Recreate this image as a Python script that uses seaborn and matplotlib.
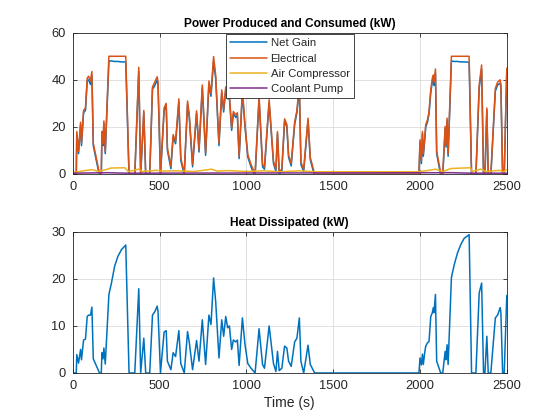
import numpy as np
import pandas as pd
import matplotlib
matplotlib.use("Agg")
import matplotlib.pyplot as plt
import seaborn as sns

# time axis (s), shared by the power and heat traces
time_s = [0, 20, 23, 33, 45, 50, 62, 73, 83, 91,
          102, 110, 118, 154, 164, 168, 174, 179, 187, 208,
          222, 241, 260, 280, 305, 324, 357, 380, 391, 409,
          420, 443, 459, 472, 486, 491, 505, 526, 538, 545,
          565, 578, 592, 611, 622, 642, 661, 671, 690, 713,
          727, 746, 765, 784, 796, 811, 823, 842, 858, 869,
          881, 892, 902, 915, 925, 939, 948, 958, 977, 992,
          1008, 1027, 1050, 1073, 1093, 1104, 1131, 1156, 1170, 1179,
          1189, 1204, 1220, 1233, 1243, 1258, 1278, 1291, 1305, 1314,
          1330, 1355, 1368, 1393, 1994, 2000, 2008, 2014, 2019, 2027,
          2033, 2043, 2052, 2062, 2071, 2077, 2081, 2089, 2096, 2119,
          2131, 2145, 2150, 2156, 2162, 2181, 2197, 2216, 2235, 2254,
          2283, 2297, 2322, 2341, 2355, 2366, 2374, 2385, 2393, 2408,
          2434, 2447, 2462, 2466, 2476, 2485, 2500]

electrical = [0, 0, 18, 9.6, 22, 13, 27, 28, 40.7, 41.5,
              39.5, 43.5, 13, 0, 0, 18, 13, 22.5, 9.6, 50,
              50, 50, 50, 50, 50, 0, 0, 45.3, 0, 27,
              0, 0, 37, 39, 41.3, 39, 0, 28, 30, 11,
              3.2, 16.7, 13.8, 31.9, 6.8, 0.4, 31, 25, 4, 26.8,
              10.3, 37.8, 8.9, 39.5, 34.3, 49.9, 42, 13.1, 35.7, 27.3,
              37, 32.9, 33.5, 19.5, 26.5, 25, 26, 7.5, 35.7, 20.9,
              8.2, 3.9, 0, 33, 4, 3, 31.5, 5.4, 2, 18,
              1, 2, 23.4, 21, 8, 4.4, 22, 27, 38, 5,
              2, 23.7, 7, 0, 0, 14.5, 5.4, 18, 8.5, 15.2,
              20.9, 23, 26.5, 35.7, 40.7, 42, 39, 44.6, 9.6, 0.5,
              0, 20.2, 12.4, 23.7, 8.5, 50, 50, 50, 50, 50,
              50, 0, 0, 37.8, 46.3, 0, 0, 28, 0, 0,
              36.4, 39, 40, 37.8, 0, 0, 45]

net_gain = [-1, -1, 17, 8.6, 21, 12, 26, 27, 39.5, 40,
            38, 42, 12, -1, -1, 17, 12, 21.5, 8.6, 48,
            48, 47.8, 47.8, 47.6, 47.6, -1, -1, 43.5, -1, 26,
            -1, -1, 36, 37.5, 40, 37.5, -1, 27, 29, 10,
            2.2, 15.7, 12.8, 30.5, 5.8, -0.6, 29.8, 24, 3, 25.8,
            9.3, 36.5, 7.9, 38, 33, 48, 40.5, 12, 34.5, 26.3,
            35.8, 31.9, 32.3, 18.5, 25.5, 24, 25, 6.5, 34.5, 19.9,
            7.2, 2.9, -1, 31.8, 3, 2, 30.3, 4.4, 1, 17,
            0, 1, 22.4, 20, 7, 3.4, 21, 26, 36.8, 4,
            1, 22.7, 6, -1, -1, 13.5, 4.4, 17, 7.5, 14.2,
            19.9, 22, 25.5, 34.5, 39.3, 40.6, 37.6, 43, 8.6, -0.5,
            -1, 19.2, 11.4, 22.7, 7.5, 48, 47.8, 47.8, 47.6, 47.6,
            47.5, -1, -1, 36.5, 44.5, -1, -1, 27, -1, -1,
            35.2, 37.8, 38.6, 36.5, -1, -1, 43.5]

heat = [0, 0, 3.9, 2.1, 5, 2.8, 7, 7.2, 12, 12.3,
        12.3, 14, 3, 0, 0, 4.3, 3, 5.3, 1.9, 16.7,
        19, 22.7, 24.8, 26.2, 27.2, 0, 0, 17.9, 0, 7.4,
        0, 0, 12.3, 13, 14.2, 13, 0, 8.7, 9, 2.5,
        0.7, 4.3, 3.5, 9, 2, 0, 8.8, 6.5, 0.7, 6.9,
        2.5, 11.3, 1.8, 12.3, 10.3, 20.2, 15.2, 3.2, 11.3, 7.8,
        12, 9.6, 10, 5, 7, 6.6, 7, 1.6, 11.7, 6,
        2, 1, 0, 9.4, 1.8, 1, 10, 2, 0.3, 4.6,
        0.5, 1, 5.7, 5.3, 2.5, 1.4, 6.6, 7.4, 11.7, 2.5,
        0, 5.9, 1.8, 0, 0, 3.2, 1.7, 4, 1.8, 4.3,
        5.7, 6.4, 6.7, 12, 12.8, 13.9, 12.8, 16.7, 2.5, 0,
        0, 4.6, 2.8, 6, 1.8, 20.3, 23, 25.5, 27.3, 28.6,
        29.4, 0, 0, 17, 19.1, 0, 0, 7.8, 0, 0,
        11.7, 12.3, 13.9, 12.8, 0, 0, 16.5]

# auxiliary loads, read on their own coarser time base
comp_t = [0, 20, 80, 110, 150, 200, 220, 300, 320, 380, 400, 480, 520, 600,
          700, 800, 830, 900, 1000, 1100, 1200, 1300, 1400, 1990, 2050, 2090,
          2130, 2180, 2290, 2300, 2350, 2380, 2460, 2480, 2500]
comp_kw = [0.8, 0.8, 1.5, 1.8, 1.0, 2.0, 2.5, 2.6, 1.0, 2.0, 1.0, 1.5, 1.2, 1.3,
           1.0, 2.0, 1.2, 1.4, 1.0, 1.3, 0.9, 1.3, 0.9, 0.9, 1.5, 2.0,
           1.0, 2.3, 2.6, 1.0, 2.0, 1.0, 1.5, 0.8, 1.8]
pump_t = [0, 200, 310, 2180, 2290, 2500]
pump_kw = [0.3, 0.5, 0.3, 0.5, 0.3, 0.3]

blue = "#0072BD"
orange = "#D95319"
yellow = "#EDB120"
purple = "#7E2F8E"
dark = "#262626"

sns.set_style("ticks")
plt.rcParams['font.family'] = ['Liberation Sans', 'DejaVu Sans']

fig = plt.figure(figsize=(5.6, 4.2), dpi=100)
ax1 = fig.add_axes([0.130, 0.586, 0.775, 0.336])
ax2 = fig.add_axes([0.130, 0.112, 0.775, 0.336])

df = pd.DataFrame({"t": time_s, "net": net_gain, "elec": electrical, "heat": heat})
lw = 1.1
sns.lineplot(x=df["t"], y=df["net"], ax=ax1, color=blue, lw=lw, estimator=None, label="Net Gain")
sns.lineplot(x=df["t"], y=df["elec"], ax=ax1, color=orange, lw=lw, estimator=None, label="Electrical")
sns.lineplot(x=comp_t, y=comp_kw, ax=ax1, color=yellow, lw=lw, estimator=None, label="Air Compressor")
sns.lineplot(x=pump_t, y=pump_kw, ax=ax1, color=purple, lw=lw, estimator=None, label="Coolant Pump")
sns.lineplot(x=df["t"], y=df["heat"], ax=ax2, color=blue, lw=lw, estimator=None, legend=False)

for ax, ylim, yt in [(ax1, (0, 60), [0, 20, 40, 60]), (ax2, (0, 30), [0, 10, 20, 30])]:
    ax.set_xlim(0, 2500)
    ax.set_ylim(*ylim)
    ax.set_xticks([0, 500, 1000, 1500, 2000, 2500])
    ax.set_yticks(yt)
    ax.grid(True, color="#dcdcdc", lw=0.6)
    ax.set_axisbelow(True)
    ax.tick_params(direction="in", top=True, right=True, length=3, width=0.6,
                   colors=dark, labelsize=9.3, pad=5)
    for s in ax.spines.values():
        s.set_color(dark)
        s.set_linewidth(0.6)
    ax.set_ylabel("")
    ax.set_xlabel("")

ax1.set_title("Power Produced and Consumed (kW)", fontsize=8.6, fontweight="bold", color="black", pad=4)
ax2.set_title("Heat Dissipated (kW)", fontsize=8.6, fontweight="bold", color="black", pad=4)
ax2.set_xlabel("Time (s)", fontsize=10, color=dark, labelpad=3)

leg = ax1.legend(loc="upper center", bbox_to_anchor=(0.5, 1.0), fontsize=8.2, frameon=True,
                 fancybox=False, edgecolor=dark, framealpha=1, borderaxespad=0.15,
                 handlelength=3.2, handletextpad=0.35, labelspacing=0.45, borderpad=0.35)
leg.get_frame().set_linewidth(0.6)

fig.savefig("out.png", dpi=100)
